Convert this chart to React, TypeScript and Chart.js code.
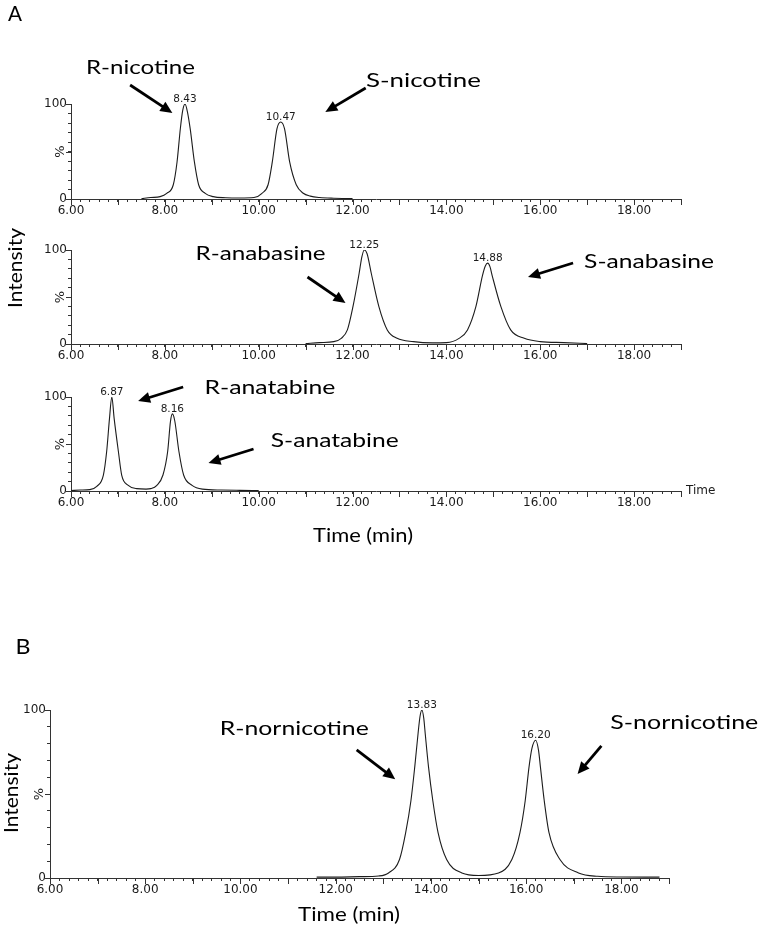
import React, { useEffect, useRef } from 'react';
import { Chart, registerables } from 'chart.js';

Chart.register(...registerables);

// ---------------- data ----------------
const xLabelValues = [6, 8, 10, 12, 14, 16, 18];
const yLabelValues = [0, 100];

// Panel A, top: nicotine
const nicotineTime = [7.5, 7.7, 7.9, 8.04, 8.18, 8.26, 8.33, 8.38, 8.43, 8.48, 8.54, 8.63, 8.72, 8.86, 9.03, 9.3, 9.6, 9.9, 10.07, 10.2, 10.29, 10.39, 10.47, 10.55, 10.66, 10.8, 10.95, 11.1, 11.3, 11.6, 12.0];
const nicotineIntensity = [0.3, 1.5, 2.5, 6, 15, 39, 74, 93, 100, 92, 74, 39, 15, 6, 2.5, 1.3, 1.0, 1.5, 6, 15, 39, 74, 81, 74, 39, 15, 6, 3, 1.5, 0.8, 0.5];
const nicotinePeakLabels = ['8.43', '10.47'];
const nicotineNames = ['R-nicotine', 'S-nicotine'];

// Panel A, middle: anabasine
const anabasineTime = [11.0, 11.3, 11.6, 11.76, 11.89, 12.01, 12.14, 12.2, 12.25, 12.31, 12.4, 12.56, 12.74, 12.95, 13.3, 13.7, 14.0, 14.27, 14.45, 14.63, 14.77, 14.83, 14.88, 14.93, 14.98, 15.16, 15.37, 15.66, 16.0, 16.5, 17.0];
const anabasineIntensity = [0.5, 1.5, 2.5, 6, 15, 40, 75, 93, 100, 96, 75, 40, 15, 6, 2.5, 1.2, 1.5, 6, 15, 40, 73, 83, 86, 82, 72, 40, 15, 6, 2.5, 1.5, 0.5];
const anabasinePeakLabels = ['12.25', '14.88'];
const anabasineNames = ['R-anabasine', 'S-anabasine'];

// Panel A, bottom: anatabine
const anatabineTime = [6.0, 6.2, 6.4, 6.55, 6.69, 6.76, 6.82, 6.87, 6.92, 7.01, 7.08, 7.22, 7.4, 7.6, 7.7, 7.83, 7.96, 8.06, 8.12, 8.16, 8.21, 8.3, 8.4, 8.58, 8.8, 9.2, 9.6, 10.0];
const anatabineIntensity = [0.5, 1, 1.5, 5, 17, 42, 77, 100, 77, 42, 17, 6, 2.5, 2, 2.5, 6, 17, 42, 74, 82, 75, 42, 17, 6, 2, 1, 0.7, 0.5];
const anatabinePeakLabels = ['6.87', '8.16'];
const anatabineNames = ['R-anatabine', 'S-anatabine'];

// Panel B: nornicotine
const nornicotineTime = [11.6, 12.0, 12.5, 12.9, 13.11, 13.34, 13.47, 13.58, 13.66, 13.73, 13.77, 13.81, 13.85, 13.88, 13.95, 14.04, 14.15, 14.33, 14.65, 15.0, 15.42, 15.7, 15.87, 15.98, 16.06, 16.12, 16.2, 16.26, 16.3, 16.38, 16.48, 16.71, 17.1, 17.5, 18.0, 18.8];
const nornicotineIntensity = [0.5, 0.5, 0.8, 1.2, 3, 11, 27, 46, 66, 86, 96, 100, 95, 86, 66, 46, 27, 11, 3, 1.5, 3, 11, 27, 46, 66, 77, 82, 76, 66, 46, 27, 11, 3, 1, 0.6, 0.5];
const nornicotinePeakLabels = ['13.83', '16.20'];
const nornicotineNames = ['R-nornicotine', 'S-nornicotine'];

// ---------------- layout / style ----------------
const PAGE_W = 761;
const PAGE_H = 928;
const Y_AXIS_W = 40;
const X_AXIS_H = 22;
const X_MIN = 6;
const X_MAX = 19;
const NAME_FONT = 'Lato, sans-serif';
const TICK_FONT = "'DejaVu Sans', sans-serif";
const NAME_SIZE = 19.5;
const CAP = 0.36; // half cap-height ratio
const AXIS_COLOR = '#333';
const TEXT_COLOR = '#1a1a1a';

type Pt = [number, number];
type Note = { label: Pt; width: number; from: Pt; to: Pt };
type PageText = { text: string; x: number; y: number; size: number; width: number; rotate: boolean };
type Panel = {
  key: string;
  time: number[];
  values: number[];
  peaks: string[];
  names: string[];
  area: { left: number; right: number; top: number; bottom: number };
  notes: Note[];
  texts: PageText[];
  timeTag?: boolean;
};

const panels: Panel[] = [
  {
    key: 'A1', time: nicotineTime, values: nicotineIntensity, peaks: nicotinePeakLabels, names: nicotineNames,
    area: { left: 71, right: 681, top: 104, bottom: 199 },
    notes: [
      { label: [7.48, 139], width: 109, from: [7.26, 120], to: [8.16, 90.5] },
      { label: [13.51, 125], width: 115, from: [12.28, 116.8], to: [11.42, 91.6] },
    ],
    texts: [
      { text: 'A', x: 15, y: 13, size: 21, width: 14, rotate: false },
      { text: 'Intensity', x: 15, y: 268, size: 20, width: 80, rotate: true },
    ],
  },
  {
    key: 'A2', time: anabasineTime, values: anabasineIntensity, peaks: anabasinePeakLabels, names: anabasineNames,
    area: { left: 71, right: 681, top: 250, bottom: 344 },
    notes: [
      { label: [10.04, 97], width: 130, from: [11.04, 71.3], to: [11.85, 43.6] },
      { label: [18.32, 88.6], width: 130, from: [16.7, 86.2], to: [15.74, 71.3] },
    ],
    texts: [],
  },
  {
    key: 'A3', time: anatabineTime, values: anatabineIntensity, peaks: anatabinePeakLabels, names: anatabineNames,
    area: { left: 71, right: 681, top: 397, bottom: 491 },
    notes: [
      { label: [10.24, 111], width: 131, from: [8.39, 110.6], to: [7.43, 95.7] },
      { label: [11.62, 54.3], width: 128, from: [9.89, 44.7], to: [8.93, 29.8] },
    ],
    texts: [
      { text: 'Time (min)', x: 363, y: 535, size: 18.5, width: 100, rotate: false },
    ],
    timeTag: true,
  },
  {
    key: 'B', time: nornicotineTime, values: nornicotineIntensity, peaks: nornicotinePeakLabels, names: nornicotineNames,
    area: { left: 50, right: 669, top: 710, bottom: 878 },
    notes: [
      { label: [11.13, 89.1], width: 149, from: [12.44, 76.2], to: [13.25, 58.8] },
      { label: [19.32, 93.0], width: 148, from: [17.58, 78.6], to: [17.08, 61.9] },
    ],
    texts: [
      { text: 'B', x: 23, y: 646, size: 21, width: 15, rotate: false },
      { text: 'Intensity', x: 11, y: 793, size: 20, width: 80, rotate: true },
      { text: 'Time (min)', x: 349, y: 914, size: 18.5, width: 102, rotate: false },
    ],
  },
];

function drawArrow(ctx: CanvasRenderingContext2D, x1: number, y1: number, x2: number, y2: number) {
  const ang = Math.atan2(y2 - y1, x2 - x1);
  const headLen = 12;
  const headW = 5.5;
  const bx = x2 - headLen * Math.cos(ang);
  const by = y2 - headLen * Math.sin(ang);
  ctx.strokeStyle = '#000';
  ctx.lineWidth = 2.8;
  ctx.beginPath();
  ctx.moveTo(x1, y1);
  ctx.lineTo(bx + 1 * Math.cos(ang), by + 1 * Math.sin(ang));
  ctx.stroke();
  ctx.fillStyle = '#000';
  ctx.beginPath();
  ctx.moveTo(x2, y2);
  ctx.lineTo(bx + headW * Math.sin(ang), by - headW * Math.cos(ang));
  ctx.lineTo(bx - headW * Math.sin(ang), by + headW * Math.cos(ang));
  ctx.closePath();
  ctx.fill();
}

// Draw text centred (by cap height) at x,y, stretched so that its length equals width
function fitText(ctx: CanvasRenderingContext2D, text: string, x: number, y: number, size: number, width: number, rotate: boolean) {
  ctx.save();
  ctx.font = `${size}px ${NAME_FONT}`;
  ctx.textAlign = 'center';
  ctx.textBaseline = 'alphabetic';
  ctx.fillStyle = '#000';
  const w = ctx.measureText(text).width || 1;
  ctx.translate(x, y);
  if (rotate) ctx.rotate(-Math.PI / 2);
  ctx.scale(width / w, 1);
  ctx.fillText(text, 0, size * CAP);
  ctx.restore();
}

const chromPlugin = {
  id: 'chrom',
  afterDraw(chart: any) {
    const panel: Panel = chart.options.plugins.chrom.panel;
    const ctx: CanvasRenderingContext2D = chart.ctx;
    const ca = chart.chartArea;
    const xs = chart.scales.x;
    const ys = chart.scales.y;
    ctx.save();

    // longer ticks at whole minutes and at 0/50/100 %
    ctx.strokeStyle = AXIS_COLOR;
    ctx.lineWidth = 1;
    ctx.beginPath();
    for (let t = Math.ceil(xs.min); t <= xs.max; t++) {
      const px = Math.round(xs.getPixelForValue(t)) + 0.5;
      ctx.moveTo(px, ca.bottom);
      ctx.lineTo(px, ca.bottom + 6);
    }
    for (const v of [0, 50, 100]) {
      const py = Math.round(ys.getPixelForValue(v)) + 0.5;
      ctx.moveTo(ca.left - 5, py);
      ctx.lineTo(ca.left, py);
    }
    ctx.stroke();

    // "%" unit label
    ctx.fillStyle = TEXT_COLOR;
    ctx.save();
    ctx.translate(ca.left - 10.5, (ca.top + ca.bottom) / 2);
    ctx.rotate(-Math.PI / 2);
    ctx.font = `13px ${TICK_FONT}`;
    ctx.textAlign = 'center';
    ctx.textBaseline = 'middle';
    ctx.fillText('%', 0, 0);
    ctx.restore();

    // retention-time labels at the apex of each peak
    ctx.font = `10.5px ${TICK_FONT}`;
    ctx.textAlign = 'center';
    ctx.textBaseline = 'alphabetic';
    for (const lab of panel.peaks) {
      const rt = parseFloat(lab);
      let best = -1;
      panel.time.forEach((t, i) => {
        if (Math.abs(t - rt) <= 0.15 && (best < 0 || panel.values[i] > panel.values[best])) best = i;
      });
      if (best < 0) continue;
      const px = xs.getPixelForValue(panel.time[best]);
      const py = ys.getPixelForValue(panel.values[best]);
      ctx.fillText(lab, px, py - 2);
    }

    // compound names and arrows
    panel.notes.forEach((n, i) => {
      fitText(ctx, panel.names[i], xs.getPixelForValue(n.label[0]), ys.getPixelForValue(n.label[1]), NAME_SIZE, n.width, false);
      drawArrow(
        ctx,
        xs.getPixelForValue(n.from[0]), ys.getPixelForValue(n.from[1]),
        xs.getPixelForValue(n.to[0]), ys.getPixelForValue(n.to[1])
      );
    });

    // panel letters and axis titles (page coordinates = canvas coordinates)
    for (const t of panel.texts) fitText(ctx, t.text, t.x, t.y, t.size, t.width, t.rotate);

    if (panel.timeTag) {
      ctx.fillStyle = TEXT_COLOR;
      ctx.font = `12px ${TICK_FONT}`;
      ctx.textAlign = 'left';
      ctx.textBaseline = 'middle';
      ctx.fillText('Time', ca.right + 5, ca.bottom);
    }
    ctx.restore();
  },
};

function PanelChart({ panel }: { panel: Panel }) {
  const ref = useRef<HTMLCanvasElement>(null);
  useEffect(() => {
    const canvas = ref.current;
    if (!canvas) return;
    const a = panel.area;
    const chart = new Chart(canvas, {
      type: 'line',
      data: {
        datasets: [
          {
            data: panel.time.map((t, i) => ({ x: t, y: panel.values[i] })),
            borderColor: '#1c1c1c',
            borderWidth: 1.1,
            pointRadius: 0,
            cubicInterpolationMode: 'monotone',
            fill: false,
          } as any,
        ],
      },
      options: {
        responsive: false,
        animation: false,
        devicePixelRatio: 1,
        events: [],
        layout: {
          padding: {
            left: a.left - Y_AXIS_W,
            right: PAGE_W - a.right,
            top: a.top,
            bottom: PAGE_H - a.bottom - X_AXIS_H,
          },
        },
        plugins: {
          legend: { display: false },
          tooltip: { enabled: false },
          title: { display: false },
          chrom: { panel },
        } as any,
        scales: {
          x: {
            type: 'linear',
            min: X_MIN,
            max: X_MAX,
            afterFit: (s: any) => { s.height = X_AXIS_H; },
            grid: { drawOnChartArea: false, tickLength: 3, color: AXIS_COLOR, lineWidth: 1 },
            border: { display: true, color: AXIS_COLOR, width: 1 },
            ticks: {
              stepSize: 0.2,
              autoSkip: false,
              maxTicksLimit: 1000,
              maxRotation: 0,
              minRotation: 0,
              padding: 2,
              color: TEXT_COLOR,
              font: { family: TICK_FONT, size: 12 },
              callback: (v: any) => {
                const val = Math.round(Number(v) * 10) / 10;
                return xLabelValues.includes(val) ? val.toFixed(2) : '';
              },
            },
          },
          y: {
            min: 0,
            max: 100,
            afterFit: (s: any) => { s.width = Y_AXIS_W; },
            grid: { drawOnChartArea: false, tickLength: 3, color: AXIS_COLOR, lineWidth: 1 },
            border: { display: true, color: AXIS_COLOR, width: 1 },
            ticks: {
              stepSize: 10,
              autoSkip: false,
              padding: 1,
              color: TEXT_COLOR,
              font: { family: TICK_FONT, size: 12 },
              callback: (v: any) => {
                const val = Math.round(Number(v));
                return yLabelValues.includes(val) ? String(val) : '';
              },
            },
          },
        },
      } as any,
      plugins: [chromPlugin],
    });
    let alive = true;
    const fonts = (document as any).fonts;
    if (fonts && fonts.load) {
      Promise.all([fonts.load(`20px ${NAME_FONT}`), fonts.load(`12px ${TICK_FONT}`)])
        .then(() => { if (alive) chart.update(); })
        .catch(() => {});
    }
    return () => {
      alive = false;
      chart.destroy();
    };
  }, [panel]);
  return (
    <canvas
      ref={ref}
      width={PAGE_W}
      height={PAGE_H}
      style={{ position: 'absolute', left: 0, top: 0, width: PAGE_W, height: PAGE_H }}
    />
  );
}

export default function App() {
  return (
    <div style={{ position: 'absolute', left: 0, top: 0, width: PAGE_W, height: PAGE_H, background: '#fff', overflow: 'hidden' }}>
      {panels.map((p) => (
        <PanelChart key={p.key} panel={p} />
      ))}
    </div>
  );
}
